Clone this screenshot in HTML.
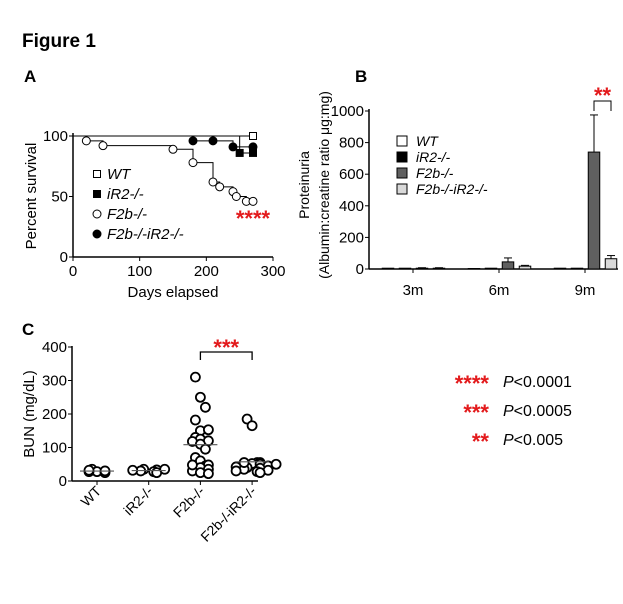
<!DOCTYPE html>
<html><head><meta charset="utf-8"><style>
body{margin:0;background:#fff}
svg{font-family:"Liberation Sans",Arial,sans-serif}
.b{font-family:"Liberation Sans",sans-serif;font-weight:bold}
</style></head><body>
<svg id="s" width="623" height="599" viewBox="0 0 623 599">
<text x="22" y="47" font-size="19" class="b">Figure 1</text>
<text x="24" y="82" font-size="17" class="b">A</text>
<text x="355" y="82" font-size="17" class="b">B</text>
<text x="22" y="335" font-size="17" class="b">C</text>
<g id="A"></g><g id="B"></g><g id="C"></g>
<g font-size="16">
<text x="489" y="391" fill="#e31a1c" text-anchor="end" font-size="22" font-weight="bold">****</text><text x="503" y="387"><tspan font-style="italic">P</tspan>&lt;0.0001</text>
<text x="489" y="420" fill="#e31a1c" text-anchor="end" font-size="22" font-weight="bold">***</text><text x="503" y="416"><tspan font-style="italic">P</tspan>&lt;0.0005</text>
<text x="489" y="449" fill="#e31a1c" text-anchor="end" font-size="22" font-weight="bold">**</text><text x="503" y="445"><tspan font-style="italic">P</tspan>&lt;0.005</text>
</g>
</svg>
<script>
// Panel A data
const aWT_t=[0,270], aWT_s=[100,100];
const aIR2_t=[0,250,270], aIR2_s=[100,86,86];
const aF2b_t=[0,20,45,150,180,210,220,240,245,260,270], aF2b_s=[100,96,92,89,78,62,58,54,50,46,46];
const aDKO_t=[0,180,210,240,270], aDKO_s=[100,96,96,91,91];
const aXTicks=[0,100,200,300], aYTicks=[0,50,100];
// Panel B data
const bGroups=['3m','6m','9m'];
const bWT=[5,3,5], bIR2=[5,5,5], bF2b=[5,45,740], bDKO=[5,18,65];
const bErrF2b=[3,25,235], bErrDKO=[3,5,20];
const bYTicks=[0,200,400,600,800,1000];
// Panel C data
const cCats=['WT','iR2-/-','F2b-/-','F2b-/-iR2-/-'];
const cWT=[35,28,25,28,30,32];
const cIR2=[35,33,28,25,30,35,32];
const cF2b=[310,250,220,182,150,153,130,125,120,118,110,95,70,60,45,48,40,35,30,25,22,48];
const cDKO=[185,165,55,55,52,50,48,45,42,40,38,35,32,30,28,25,55,50];
const cYTicks=[0,100,200,300,400];

const NS='http://www.w3.org/2000/svg';
function mk(p,tag,at,txt){const e=document.createElementNS(NS,tag);for(const k in at)e.setAttribute(k,at[k]);if(txt!=null)e.textContent=txt;p.appendChild(e);return e;}

// ---------- A ----------
const A=document.getElementById('A');
const ax=t=>73+t*(200/300), ay=v=>257-v*1.21;
let e;
e=mk(A,'line',{x1:73,y1:257,x2:273,y2:257,stroke:'#000','stroke-width':1.5});

e=mk(A,'line',{x1:73,y1:257,x2:73,y2:133,stroke:'#000','stroke-width':1.5});

aXTicks.forEach(t=>{mk(A,'line',{x1:ax(t),y1:257,x2:ax(t),y2:261,stroke:'#000'});
 e=mk(A,'text',{x:ax(t),y:276,'font-size':15,'text-anchor':'middle'},t);
 });
aYTicks.forEach(v=>{mk(A,'line',{x1:69,y1:ay(v),x2:73,y2:ay(v),stroke:'#000'});
 e=mk(A,'text',{x:68,y:ay(v)+5,'font-size':15,'text-anchor':'end'},v);
 });
e=mk(A,'text',{x:173,y:297,'font-size':15,'text-anchor':'middle'},'Days elapsed');

e=mk(A,'text',{x:0,y:0,'font-size':15,'text-anchor':'middle',transform:'translate(36,196) rotate(-90)'},'Percent survival');

function stepLine(ts,ss,name){let d='M'+ax(ts[0])+','+ay(ss[0]);
 for(let i=1;i<ts.length;i++){d+=' H'+ax(ts[i])+' V'+ay(ss[i]);}
 e=mk(A,'path',{d:d,fill:'none',stroke:'#000','stroke-width':1});
 }
stepLine(aWT_t,aWT_s,'wt-survival-line');stepLine(aIR2_t,aIR2_s,'ir2-survival-line');
stepLine(aF2b_t,aF2b_s,'f2b-survival-line');stepLine(aDKO_t,aDKO_s,'f2b-ir2-survival-line');
function sq(x,y,fill,name){e=mk(A,'rect',{x:x-3.5,y:y-3.5,width:7,height:7,fill:fill,stroke:'#000','stroke-width':1});
 }
function ci(x,y,fill,name){e=mk(A,'circle',{cx:x,cy:y,r:4,fill:fill,stroke:'#000','stroke-width':1});
 }
for(let i=1;i<aF2b_t.length;i++)ci(ax(aF2b_t[i]),ay(aF2b_s[i]),'#fff','f2b-point');
for(let i=1;i<aDKO_t.length;i++)ci(ax(aDKO_t[i]),ay(aDKO_s[i]),'#000','f2b-ir2-point');
for(let i=1;i<aIR2_t.length;i++)sq(ax(aIR2_t[i]),ay(aIR2_s[i]),'#000','ir2-point');
sq(ax(270),ay(100),'#fff','wt-point');
e=mk(A,'text',{x:253,y:226,'font-size':22,'font-weight':'bold',fill:'#e31a1c','text-anchor':'middle'},'****');

const aLeg=[['WT','sq','#fff'],['iR2-/-','sq','#000'],['F2b-/-','ci','#fff'],['F2b-/-iR2-/-','ci','#000']];
aLeg.forEach((l,i)=>{const y=174+i*20;
 if(l[1]=='sq')sq(97,y,l[2],'a-legend-marker');else ci(97,y,l[2],'a-legend-marker');
 e=mk(A,'text',{x:107,y:y+5,'font-size':15,'font-style':'italic'},l[0]);
 });

// ---------- B ----------
const B=document.getElementById('B');
const by=v=>269-v*0.158, gx=g=>388+g*86, bw=11.5;
e=mk(B,'line',{x1:369,y1:269,x2:618,y2:269,stroke:'#000','stroke-width':1.5});

e=mk(B,'line',{x1:369,y1:269,x2:369,y2:109,stroke:'#000','stroke-width':1.5});

bYTicks.forEach(v=>{mk(B,'line',{x1:365,y1:by(v),x2:369,y2:by(v),stroke:'#000'});
 e=mk(B,'text',{x:364,y:by(v)+5,'font-size':15,'text-anchor':'end'},v);
 });
e=mk(B,'text',{x:0,y:0,'font-size':14,'text-anchor':'middle',transform:'translate(309,185) rotate(-90)'},'Proteinuria');

e=mk(B,'text',{x:0,y:0,'font-size':14,'text-anchor':'middle',transform:'translate(329,185) rotate(-90)'},'(Albumin:creatine ratio \u03bcg:mg)');

const series=[[bWT,'#fff','wt'],[bIR2,'#000','ir2'],[bF2b,'#606060','f2b'],[bDKO,'#d9d9d9','f2b-ir2']];
bGroups.forEach((g,gi)=>{
 series.forEach((s,si)=>{const cx=gx(gi)+si*17;const v=s[0][gi];
  if(si==2||si==3){const er=(si==2?bErrF2b:bErrDKO)[gi];
   mk(B,'line',{x1:cx,y1:by(v),x2:cx,y2:by(v+er),stroke:'#000'});
   mk(B,'line',{x1:cx-4,y1:by(v+er),x2:cx+4,y2:by(v+er),stroke:'#000'});}
  e=mk(B,'rect',{x:cx-bw/2,y:by(v),width:bw,height:269-by(v),fill:s[1],stroke:'#000','stroke-width':1});
  });
 e=mk(B,'text',{x:gx(gi)+25,y:295,'font-size':15,'text-anchor':'middle'},g);
 
 mk(B,'line',{x1:gx(gi)+25,y1:269,x2:gx(gi)+25,y2:273,stroke:'#000'});
});
const brx1=gx(2)+34, brx2=gx(2)+51;
e=mk(B,'path',{d:`M${brx1},111 V101 H${brx2} V111`,fill:'none',stroke:'#000'});

e=mk(B,'text',{x:(brx1+brx2)/2,y:103,'font-size':22,'font-weight':'bold',fill:'#e31a1c','text-anchor':'middle'},'**');

const bLeg=[['WT','#fff'],['iR2-/-','#000'],['F2b-/-','#606060'],['F2b-/-iR2-/-','#d9d9d9']];
bLeg.forEach((l,i)=>{const y=141+i*16;
 e=mk(B,'rect',{x:397,y:y-5,width:10,height:10,fill:l[1],stroke:'#000'});
 
 e=mk(B,'text',{x:416,y:y+5,'font-size':14,'font-style':'italic'},l[0]);
 });

// ---------- C ----------
const C=document.getElementById('C');
const cy=v=>481-v*0.335, cx=i=>97+i*51.7;
e=mk(C,'line',{x1:72,y1:481,x2:258,y2:481,stroke:'#000','stroke-width':1.5});

e=mk(C,'line',{x1:72,y1:481,x2:72,y2:346,stroke:'#000','stroke-width':1.5});

cYTicks.forEach(v=>{mk(C,'line',{x1:68,y1:cy(v),x2:72,y2:cy(v),stroke:'#000'});
 e=mk(C,'text',{x:67,y:cy(v)+5,'font-size':15,'text-anchor':'end'},v);
 });
e=mk(C,'text',{x:0,y:0,'font-size':15,'text-anchor':'middle',transform:'translate(34,414) rotate(-90)'},'BUN (mg/dL)');

[cWT,cIR2,cF2b,cDKO].forEach((arr,gi)=>{
 const x0=cx(gi);
 mk(C,'line',{x1:x0,y1:481,x2:x0,y2:485,stroke:'#000'});
 const cnt={};
 arr.forEach((v,i)=>{const bin=Math.round(v/12);cnt[bin]=(cnt[bin]||0)+1;const k=cnt[bin]-1;
  const off=(k%2?1:-1)*Math.ceil(k/2)*8 + (k==0? (i%3-1)*5:0);
  e=mk(C,'circle',{cx:x0+off,cy:cy(v),r:4.5,fill:'#fff',stroke:'#000','stroke-width':1.8});
  });
 const m=arr.reduce((a,b)=>a+b,0)/arr.length;
 e=mk(C,'line',{x1:x0-17,y1:cy(m),x2:x0+17,y2:cy(m),stroke:'#555','stroke-width':1.2});
 
 e=mk(C,'text',{x:0,y:0,'font-size':14,'text-anchor':'end',transform:`translate(${x0+5},492) rotate(-45)`},cCats[gi]);
 
});
e=mk(C,'path',{d:`M${cx(2)},360 V352 H${cx(3)} V360`,fill:'none',stroke:'#000','stroke-width':1.3});

e=mk(C,'text',{x:(cx(2)+cx(3))/2,y:355,'font-size':22,'font-weight':'bold',fill:'#e31a1c','text-anchor':'middle'},'***');

</script>
</body></html>
